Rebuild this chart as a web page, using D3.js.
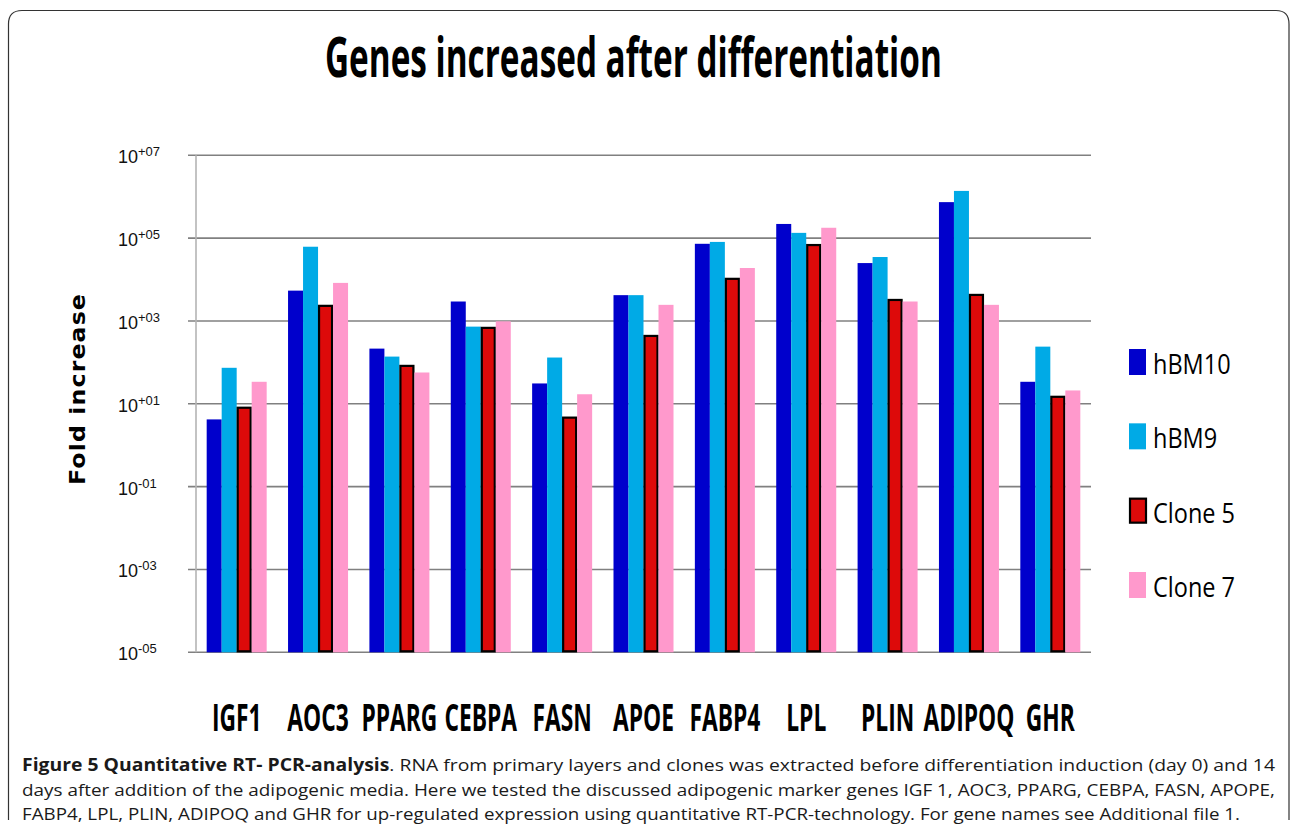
<!DOCTYPE html>
<html>
<head>
<meta charset="utf-8">
<script src="https://cdn.jsdelivr.net/npm/d3@7"></script>
<style>
  body { margin: 0; background: #fff; }
  svg { display: block; }
</style>
</head>
<body>
<svg id="chart" width="1290" height="834"></svg>
<script>
// data
var genes = ['IGF1', 'AOC3', 'PPARG', 'CEBPA', 'FASN', 'APOE', 'FABP4', 'LPL', 'PLIN', 'ADIPOQ', 'GHR'];
var seriesNames = ['hBM10', 'hBM9', 'Clone 5', 'Clone 7'];
var hBM10 = [4.2, 5400, 215, 2950, 31, 4200, 73000, 220000, 25000, 740000, 34];
var hBM9 = [74, 62000, 138, 730, 131, 4200, 81000, 134000, 35000, 1380000, 240];
var clone5 = [8.5, 2450, 87, 720, 4.9, 460, 11000, 72000, 3400, 4500, 15.6];
var clone7 = [34, 8300, 57, 980, 17, 2450, 19000, 178000, 2950, 2450, 21];
var tickValues = [1e7, 1e5, 1e3, 1e1, 1e-1, 1e-3, 1e-5];

var captionLines = [
  [['Figure 5 Quantitative RT- PCR-analysis', true], ['. RNA from primary layers and clones was extracted before differentiation induction (day 0) and 14', false]],
  [['days after addition of the adipogenic media. Here we tested the discussed adipogenic marker genes IGF 1, AOC3, PPARG, CEBPA, FASN, APOPE,', false]],
  [['FABP4, LPL, PLIN, ADIPOQ and GHR for up-regulated expression using quantitative RT-PCR-technology. For gene names see Additional file 1.', false]]
];

var color = {
  'hBM10': '#0000cc',
  'hBM9': '#00aae6',
  'Clone 5': '#dd0a0a',
  'Clone 7': '#ff99cc'
};

var values = [hBM10, hBM9, clone5, clone7];

var svg = d3.select('#chart');

var plot = { left: 196, right: 1091, top: 155.3, bottom: 652.3 };

// frame round figure
svg.append('path')
  .attr('d', 'M8.5,820 L8.5,24 Q8.5,10.5 22,10.5 L1276,10.5 Q1289,10.5 1289,24 L1289,820')
  .style('fill', 'none')
  .style('stroke', '#333')
  .style('stroke-width', 1.2);

var x = d3.scaleBand()
  .domain(genes)
  .range([plot.left, plot.right])
  .paddingInner(0.2625)
  .paddingOuter(0.13125);

var xs = d3.scaleBand()
  .domain(seriesNames)
  .range([0, x.bandwidth()]);

var y = d3.scaleLog()
  .domain([1e-5, 1e7])
  .range([plot.bottom, plot.top]);

// grid lines
svg.append('g').selectAll('line')
  .data(tickValues)
  .enter().append('line')
  .attr('x1', plot.left - 8)
  .attr('x2', plot.right)
  .attr('y1', function(d) { return y(d); })
  .attr('y2', function(d) { return y(d); })
  .style('stroke', '#808080')
  .style('stroke-width', 1.6);

// y axis line
svg.append('line')
  .attr('x1', plot.left).attr('x2', plot.left)
  .attr('y1', plot.top).attr('y2', plot.bottom)
  .style('stroke', '#b4b4b4')
  .style('stroke-width', 1.6);

// tick labels 10^+07 etc
var tickText = svg.append('g').selectAll('text')
  .data(tickValues)
  .enter().append('text')
  .attr('x', 118)
  .attr('y', function(d) { return y(d) + 8; })
  .style('font-family', 'Liberation Sans, Arial, sans-serif')
  .style('font-size', '18px')
  .style('fill', '#111');

tickText.append('tspan').text('10');
tickText.append('tspan')
  .attr('dy', -7)
  .style('font-size', '13px')
  .text(function(d) {
    var e = Math.round(Math.log10(d));
    return (e < 0 ? '-' : '+') + d3.format('02d')(Math.abs(e));
  });

// bars
var group = svg.append('g').selectAll('g')
  .data(genes)
  .enter().append('g')
  .attr('transform', function(d) { return 'translate(' + x(d) + ',0)'; });

group.selectAll('rect')
  .data(function(g, i) {
    return seriesNames.map(function(s, j) { return { series: s, value: values[j][i] }; });
  })
  .enter().append('rect')
  .attr('x', function(d) { return xs(d.series) + (d.series === 'Clone 5' ? 1 : 0); })
  .attr('width', function(d) { return xs.bandwidth() - (d.series === 'Clone 5' ? 2 : 0); })
  .attr('y', function(d) { return y(d.value) + (d.series === 'Clone 5' ? 1 : 0); })
  .attr('height', function(d) { return plot.bottom - y(d.value) - (d.series === 'Clone 5' ? 2 : 0); })
  .style('fill', function(d) { return color[d.series]; })
  .style('stroke', function(d) { return d.series === 'Clone 5' ? '#000' : 'none'; })
  .style('stroke-width', 2.2);

// category labels
svg.append('g').selectAll('text')
  .data(genes)
  .enter().append('text')
  .attr('transform', function(d) {
    return 'translate(' + (x(d) + x.bandwidth() / 2) + ',731) scale(0.6,1)';
  })
  .attr('text-anchor', 'middle')
  .style('font-family', 'Open Sans, sans-serif')
  .style('font-weight', 'bold')
  .style('font-size', '38px')
  .style('fill', '#000')
  .text(function(d) { return d; });

// title, squeezed to the width it has in the figure
var title = svg.append('text')
  .style('font-family', 'Open Sans, sans-serif')
  .style('font-weight', 'bold')
  .style('font-size', '55px')
  .style('fill', '#000')
  .text('Genes increased after differentiation');
var titleLen = title.node().getComputedTextLength();
title.attr('transform', 'translate(325,77) scale(' + (617 / titleLen) + ',1)');

// y axis title
svg.append('text')
  .attr('transform', 'translate(85,485) rotate(-90)')
  .attr('textLength', 192)
  .attr('lengthAdjust', 'spacingAndGlyphs')
  .style('font-family', 'DejaVu Sans, sans-serif')
  .style('font-weight', 'bold')
  .style('font-size', '21px')
  .style('letter-spacing', '1px')
  .style('fill', '#000')
  .text('Fold increase');

// legend
var legendY = d3.scalePoint()
  .domain(seriesNames)
  .range([362, 585]);

var legend = svg.append('g').selectAll('g')
  .data(seriesNames)
  .enter().append('g')
  .attr('transform', function(d) { return 'translate(1129,' + legendY(d) + ')'; });

legend.append('rect')
  .attr('x', function(d) { return d === 'Clone 5' ? 1 : 0; })
  .attr('y', function(d) { return d === 'Clone 5' ? -12 : -13; })
  .attr('width', function(d) { return d === 'Clone 5' ? 16 : 17; })
  .attr('height', function(d) { return d === 'Clone 5' ? 24 : 26; })
  .style('fill', function(d) { return color[d]; })
  .style('stroke', function(d) { return d === 'Clone 5' ? '#000' : 'none'; })
  .style('stroke-width', 2.2);

legend.append('text')
  .attr('transform', 'translate(24,12) scale(0.84,1)')
  .style('font-family', 'Open Sans, sans-serif')
  .style('font-size', '28px')
  .style('fill', '#000')
  .text(function(d) { return d; });

// caption
var captionWidths = [1253, 1253, 1218];
var caption = svg.append('g').selectAll('text')
  .data(captionLines)
  .enter().append('text')
  .attr('x', 22)
  .attr('y', function(d, i) { return 771 + i * 24.5; })
  .attr('textLength', function(d, i) { return captionWidths[i]; })
  .attr('lengthAdjust', 'spacingAndGlyphs')
  .style('font-family', 'Open Sans, sans-serif')
  .style('font-size', '17px')
  .style('fill', '#1a1a1a');

caption.selectAll('tspan')
  .data(function(d) { return d; })
  .enter().append('tspan')
  .style('font-weight', function(d) { return d[1] ? 'bold' : 'normal'; })
  .text(function(d) { return d[0]; });
</script>
</body>
</html>
